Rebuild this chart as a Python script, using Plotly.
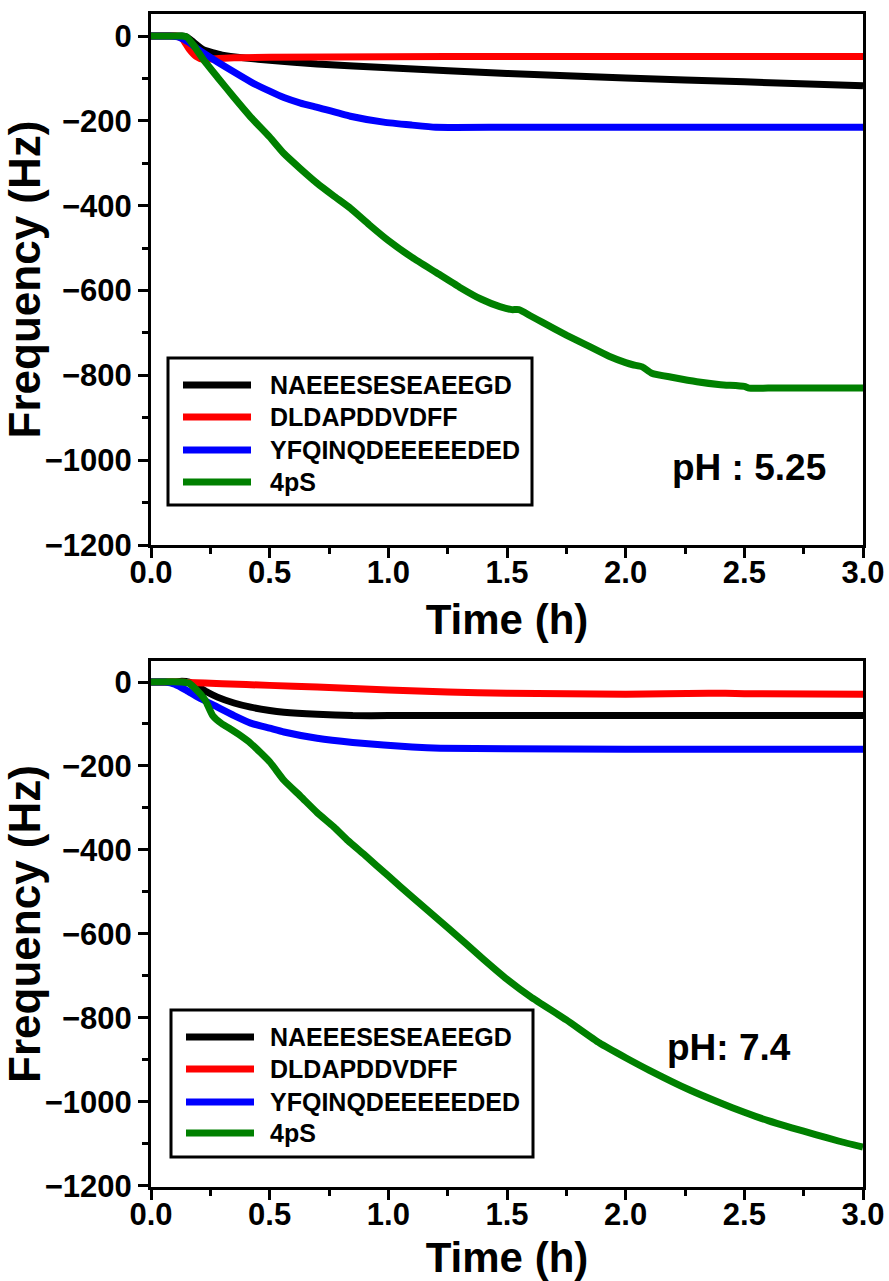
import plotly.graph_objects as go

series_names = ["NAEEESESEAEEGD", "DLDAPDDVDFF", "YFQINQDEEEEEDED", "4pS"]
colors = ["#000000", "#FF0000", "#0000FF", "#008000"]

# ---- pH 5.25 (top panel) ----
a_black_t = [0, 0.13, 0.15, 0.18, 0.22, 0.3, 0.4, 0.5, 0.7, 1.0, 1.5, 2.0, 2.5, 3.0]
a_black_f = [0, 0, -2, -15, -32, -45, -52, -57, -66, -75, -88, -99, -108, -117]

a_red_t = [0, 0.1, 0.13, 0.16, 0.19, 0.22, 0.26, 0.35, 0.5, 1.0, 1.5, 2.0, 3.0]
a_red_f = [0, 0, -5, -30, -48, -55, -54, -51, -50, -49, -48, -48, -48]

a_blue_t = [0, 0.08, 0.12, 0.16, 0.2, 0.28, 0.35, 0.42, 0.5, 0.56, 0.63, 0.7, 0.84, 0.98, 1.1, 1.2, 1.5, 2.0, 2.5, 3.0]
a_blue_f = [0, 0, -3, -15, -32, -61, -85, -108, -130, -145, -158, -168, -189, -203, -210, -215, -215, -215, -215, -215]

a_green_t = [0, 0.13, 0.15, 0.18, 0.22, 0.28, 0.35, 0.42, 0.5, 0.56, 0.63, 0.7, 0.77, 0.84, 0.92,
             1.0, 1.1, 1.2, 1.3, 1.39, 1.47, 1.52, 1.55, 1.6, 1.65, 1.75, 1.84, 1.93, 2.0, 2.03,
             2.07, 2.11, 2.2, 2.3, 2.4, 2.5, 2.52, 2.6, 2.8, 3.0]
a_green_f = [0, 0, -2, -22, -55, -97, -145, -191, -238, -277, -313, -347, -377, -406, -445,
             -482, -522, -557, -592, -620, -638, -645, -645, -660, -675, -705, -730, -755, -770, -775,
             -780, -795, -805, -815, -822, -826, -830, -830, -830, -830]

# ---- pH 7.4 (bottom panel) ----
b_black_t = [0, 0.1, 0.13, 0.16, 0.2, 0.24, 0.28, 0.35, 0.42, 0.5, 0.56, 0.7, 0.85, 1.0, 1.5, 2.0, 2.5, 3.0]
b_black_f = [0, 0, 2, 0, -12, -25, -36, -50, -60, -68, -72, -77, -80, -80, -80, -80, -80, -80]

b_red_t = [0, 0.1, 0.15, 0.3, 0.5, 0.7, 1.0, 1.25, 1.5, 2.0, 2.35, 2.42, 2.5, 3.0]
b_red_f = [0, 0, -1, -4, -8, -12, -19, -24, -27, -29, -27, -27, -28, -29]

b_blue_t = [0, 0.06, 0.1, 0.15, 0.2, 0.28, 0.35, 0.42, 0.5, 0.56, 0.7, 0.85, 0.98, 1.1, 1.22, 1.5, 2.0, 2.5, 3.0]
b_blue_f = [0, 0, -5, -20, -37, -60, -80, -98, -110, -119, -134, -144, -150, -155, -158, -159, -160, -160, -160]

b_green_t = [0, 0.13, 0.16, 0.18, 0.21, 0.23, 0.26, 0.3, 0.33, 0.37, 0.42, 0.5, 0.56, 0.63, 0.7, 0.77,
             0.83, 0.9, 1.0, 1.1, 1.25, 1.4, 1.5, 1.6, 1.75, 1.89, 2.0, 2.1, 2.27, 2.4, 2.5, 2.6,
             2.7, 2.8, 2.9, 3.0]
b_green_f = [0, 0, -3, -12, -30, -45, -80, -100, -110, -125, -146, -190, -234, -272, -311, -345,
             -378, -412, -462, -512, -585, -660, -708, -750, -805, -860, -895, -925, -972, -1003, -1025, -1045,
             -1062, -1078, -1094, -1108]

top_series = [(a_black_t, a_black_f), (a_red_t, a_red_f), (a_blue_t, a_blue_f), (a_green_t, a_green_f)]
bot_series = [(b_black_t, b_black_f), (b_red_t, b_red_f), (b_blue_t, b_blue_f), (b_green_t, b_green_f)]

x_ticks = [0, 0.5, 1.0, 1.5, 2.0, 2.5, 3.0]
y_ticks = [0, -200, -400, -600, -800, -1000, -1200]
ph_labels = ["pH : 5.25", "pH: 7.4"]

FONT = "Liberation Sans, Arial, sans-serif"
W, H = 889, 1281
ML, MR, MT, MB = 151, 26, 14, 94
PW, PH = W - ML - MR, H - MT - MB


def xp(px):
    return (px - ML) / PW


def yp(py):
    return (H - MB - py) / PH


fig = go.Figure()
for (t, f), name, c in zip(top_series, series_names, colors):
    fig.add_trace(go.Scatter(x=t, y=f, mode="lines", name=name, showlegend=False,
                             line=dict(color=c, width=7, shape="spline", smoothing=0.5),
                             xaxis="x", yaxis="y"))
for (t, f), name, c in zip(bot_series, series_names, colors):
    fig.add_trace(go.Scatter(x=t, y=f, mode="lines", name=name, showlegend=False,
                             line=dict(color=c, width=7, shape="spline", smoothing=0.5),
                             xaxis="x2", yaxis="y2"))


def xax(anchor):
    return dict(anchor=anchor, range=[0, 3], tickvals=x_ticks, tickformat=".1f",
                automargin=False, ticklabelstandoff=-12,
                showline=True, linewidth=3, linecolor="black", mirror=True,
                ticks="outside", ticklen=10, tickwidth=3, tickcolor="black",
                minor=dict(ticks="outside", ticklen=6, tickwidth=3, tickcolor="black", dtick=0.25),
                showgrid=False, zeroline=False,
                tickfont=dict(family=FONT, size=31, color="black", weight="bold"),
                title=dict(text="Time (h)", font=dict(family=FONT, size=42, color="black", weight="bold"),
                           standoff=16))


def yax(anchor, domain, rng):
    return dict(anchor=anchor, domain=domain, range=rng, tickvals=y_ticks,
                automargin=False,
                showline=True, linewidth=3, linecolor="black", mirror=True,
                ticks="outside", ticklen=10, tickwidth=3, tickcolor="black",
                minor=dict(ticks="outside", ticklen=6, tickwidth=3, tickcolor="black", dtick=100),
                showgrid=False, zeroline=False,
                tickfont=dict(family=FONT, size=31, color="black", weight="bold"),
                title=dict(text="Frequency (Hz)", font=dict(family=FONT, size=44, color="black", weight="bold"),
                           standoff=0))


# custom legends (box, line samples, labels), in pixel layout converted to paper units
legend_specs = [
    dict(box=(168, 358, 532, 505), rows=[385, 417, 450, 482], seg=(183, 251), text_x=268),
    dict(box=(171, 1010, 533, 1157), rows=[1037, 1069, 1102, 1133], seg=(186, 254), text_x=268),
]
shapes = []
annotations = []
for spec in legend_specs:
    x0, y0, x1, y1 = spec["box"]
    shapes.append(dict(type="rect", xref="paper", yref="paper",
                       x0=xp(x0), x1=xp(x1), y0=yp(y1), y1=yp(y0),
                       line=dict(color="black", width=3), fillcolor="white", layer="above"))
    for ry, name, c in zip(spec["rows"], series_names, colors):
        shapes.append(dict(type="line", xref="paper", yref="paper",
                           x0=xp(spec["seg"][0]), x1=xp(spec["seg"][1]), y0=yp(ry), y1=yp(ry),
                           line=dict(color=c, width=7), layer="above"))
        annotations.append(dict(text=name, xref="paper", yref="paper",
                                x=xp(spec["text_x"]), y=yp(ry), xanchor="left", yanchor="middle",
                                showarrow=False,
                                font=dict(family=FONT, size=25, color="black", weight="bold")))

annotations.append(dict(text=ph_labels[0], xref="paper", yref="paper", x=xp(749), y=yp(467),
                        xanchor="center", yanchor="middle", showarrow=False,
                        font=dict(family=FONT, size=37, color="black", weight="bold")))
annotations.append(dict(text=ph_labels[1], xref="paper", yref="paper", x=xp(729), y=yp(1047),
                        xanchor="center", yanchor="middle", showarrow=False,
                        font=dict(family=FONT, size=37, color="black", weight="bold")))

fig.update_layout(
    width=W, height=H,
    margin=dict(l=ML, r=MR, t=MT, b=MB),
    paper_bgcolor="white", plot_bgcolor="white",
    xaxis=xax("y"),
    yaxis=yax("x", [0.5473, 1.0], [-1200, 52]),
    xaxis2=xax("y2"),
    yaxis2=yax("x2", [0.0, 0.4484], [-1203, 50]),
    showlegend=False,
    shapes=shapes,
    annotations=annotations,
)

fig.write_html("out.html")
